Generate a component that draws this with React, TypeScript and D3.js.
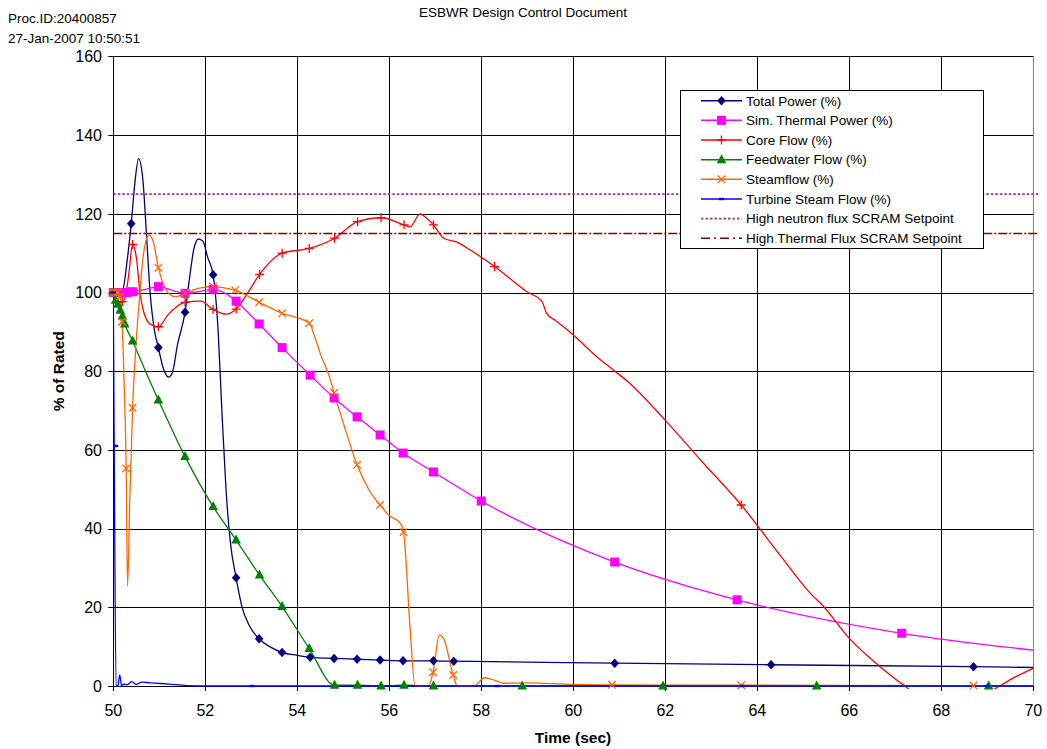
import React from "react";
import * as d3 from "d3";

type P = [number, number];

// ---- data (time in sec, % of rated) ----
const xTicks = [50, 52, 54, 56, 58, 60, 62, 64, 66, 68, 70];
const yTicks = [0, 20, 40, 60, 80, 100, 120, 140, 160];

const totalPowerLine: P[] = [
  [50, 100], [50.1, 100], [50.2, 100.5], [50.3, 108], [50.39, 117.5], [50.47, 128], [50.55, 134],
  [50.64, 129], [50.72, 115], [50.8, 100], [50.9, 90], [50.98, 86], [51.08, 81], [51.2, 78.5],
  [51.28, 79.5], [51.4, 87], [51.56, 95], [51.65, 103], [51.75, 111], [51.85, 113.6], [51.95, 113],
  [52.05, 109], [52.17, 104.5], [52.28, 90], [52.36, 70], [52.45, 50], [52.55, 36], [52.67, 27.5],
  [52.8, 20], [52.95, 15.5], [53.17, 12], [53.4, 10], [53.67, 8.5], [54.0, 7.8], [54.28, 7.3],
  [54.8, 7.0], [55.3, 6.8], [55.8, 6.6], [56.3, 6.4], [56.96, 6.4], [57.4, 6.3], [60.9, 5.8],
  [64.3, 5.4], [68.7, 4.9], [70, 4.7],
];
const totalPowerMarks: P[] = [
  [50, 100], [50.39, 117.5], [50.98, 86], [51.56, 95], [52.17, 104.5], [52.67, 27.5], [53.17, 12],
  [53.67, 8.5], [54.28, 7.3], [54.8, 7.0], [55.3, 6.8], [55.8, 6.6], [56.3, 6.4], [56.96, 6.4],
  [57.4, 6.3], [60.9, 5.8], [64.3, 5.4], [68.7, 4.9],
];

const thermalLine: P[] = [
  [50, 100], [50.1, 100], [50.2, 100], [50.3, 100], [50.42, 100.2], [50.7, 100.8], [50.98, 101.5],
  [51.3, 100.5], [51.56, 99.8], [51.9, 100.3], [52.17, 100.8], [52.4, 100], [52.67, 97.8],
  [53.17, 92], [53.67, 86], [54.28, 79], [54.8, 73.2], [55.3, 68.4], [55.8, 63.8], [56.3, 59.2],
  [56.96, 54.4], [58.0, 47], [60.9, 31.5], [63.56, 21.9], [67.14, 13.4], [70, 9.1],
];
const thermalMarks: P[] = [
  [50, 100], [50.1, 100], [50.2, 100], [50.3, 100], [50.42, 100.2], [50.98, 101.5], [51.56, 99.8],
  [52.17, 100.8], [52.67, 97.8], [53.17, 92], [53.67, 86], [54.28, 79], [54.8, 73.2], [55.3, 68.4],
  [55.8, 63.8], [56.3, 59.2], [56.96, 54.4], [58.0, 47], [60.9, 31.5], [63.56, 21.9], [67.14, 13.4],
];

const coreFlowLine: P[] = [
  [50, 100], [50.05, 97.5], [50.15, 97.5], [50.25, 98.5], [50.33, 104], [50.42, 112.2], [50.5, 109],
  [50.58, 100], [50.66, 95.1], [50.8, 92], [50.98, 91.3], [51.2, 94.5], [51.56, 97.5], [51.9, 97.8],
  [52.17, 95.7], [52.45, 94.5], [52.67, 95.8], [52.9, 99.5], [53.18, 104.6], [53.67, 110],
  [54.26, 111.2], [54.81, 113.8], [55.31, 118], [55.82, 119], [56.32, 117.2], [56.45, 116.7],
  [56.67, 120], [56.8, 119], [56.96, 117.2], [57.18, 113.8], [57.47, 112.8], [57.76, 110.8],
  [58.29, 106.6], [58.99, 100.2], [59.32, 97.7], [59.42, 94.7], [59.6, 93], [60.0, 89.2],
  [60.51, 83.7], [60.87, 80.3], [61.23, 76.9], [62.0, 67.5], [62.8, 57], [63.65, 46], [64.49, 33.3],
  [65.15, 23.6], [65.44, 20.2], [66.0, 12.1], [66.4, 7.6], [66.67, 4.9], [67.17, 0.3], [67.6, -3],
  [68.5, -4], [69.27, 0], [69.56, 2], [70, 4.5],
];
const coreFlowMarks: P[] = [
  [50, 100], [50.1, 97.5], [50.2, 97.7], [50.42, 112.2], [50.98, 91.3], [51.56, 97.5], [52.17, 95.7],
  [52.67, 95.8], [53.18, 104.6], [53.67, 110], [54.26, 111.2], [54.81, 113.8], [55.31, 118],
  [55.82, 119], [56.32, 117.2], [56.96, 117.2], [58.29, 106.6], [63.65, 46],
];

const feedwaterLine: P[] = [
  [50, 100], [50.05, 98], [50.1, 97], [50.15, 95.5], [50.2, 94], [50.25, 92], [50.42, 87.7],
  [50.7, 80], [50.98, 72.7], [51.56, 58.3], [52.17, 45.6], [52.67, 37.1], [53.18, 28.2],
  [53.67, 20.2], [54.26, 9.5], [54.81, 0.2], [55.31, 0.2], [55.82, 0], [56.32, 0.2], [56.96, 0],
  [58.89, 0], [61.95, 0], [65.29, 0], [69.03, 0], [70, 0],
];
const feedwaterMarks: P[] = [
  [50, 100], [50.05, 98], [50.1, 97], [50.15, 95.5], [50.2, 94], [50.25, 92], [50.42, 87.7],
  [50.98, 72.7], [51.56, 58.3], [52.17, 45.6], [52.67, 37.1], [53.18, 28.2], [53.67, 20.2],
  [54.26, 9.5], [54.81, 0.2], [55.31, 0.2], [55.82, 0], [56.32, 0.2], [56.96, 0], [58.89, 0],
  [61.95, 0], [65.29, 0], [69.03, 0],
];

const steamLine: P[] = [
  [50, 100], [50.05, 100], [50.1, 100], [50.15, 99], [50.19, 92.6], [50.24, 75], [50.28, 55.3],
  [50.31, 25.4], [50.36, 48], [50.42, 70.7], [50.5, 88], [50.58, 100], [50.64, 108.3],
  [50.77, 114.6], [50.86, 113.3], [50.98, 106.3], [51.17, 100.2], [51.35, 98.9], [51.56, 99.9],
  [51.9, 101.2], [52.17, 101.5], [52.4, 101.2], [52.65, 100.6], [53.17, 97.5], [53.67, 94.7],
  [54.26, 92.2], [54.4, 88], [54.5, 84.5], [54.72, 77.8], [54.8, 74.5], [55.05, 65], [55.3, 56.2],
  [55.55, 50], [55.8, 46], [55.98, 43.5], [56.24, 41.3], [56.31, 39.1], [56.45, 15], [56.56, 0],
  [56.85, 0], [56.95, 3.5], [57.09, 13], [57.18, 12.1], [57.39, 2.8], [57.48, 0], [57.83, 0],
  [58.08, 2.1], [58.3, 1.4], [58.48, 0.7], [59.0, 0.8], [60, 0.4], [60.84, 0.3], [63.65, 0.2],
  [68.7, 0.1], [70, 0.1],
];
const steamMarks: P[] = [
  [50, 100], [50.05, 100], [50.1, 100], [50.15, 99], [50.19, 92.6], [50.28, 55.3], [50.42, 70.7],
  [50.98, 106.3], [51.56, 99.9], [52.17, 101.5], [52.65, 100.6], [53.17, 97.5], [53.67, 94.7],
  [54.26, 92.2], [54.8, 74.5], [55.3, 56.2], [55.8, 46], [56.31, 39.1], [56.95, 3.5], [57.39, 2.8],
  [60.84, 0.3], [63.65, 0.2], [68.7, 0.1],
];

const turbineLine: P[] = [
  [50, 100], [50.02, 61], [50.06, 0], [50.1, 0], [50.14, 2.8], [50.18, 0], [50.22, 0.5], [50.3, 0.3],
  [50.4, 1.1], [50.5, 0.4], [50.62, 1.0], [50.8, 0.8], [51.2, 0.5], [51.6, 0.1], [52, 0], [70, 0],
];
const turbineMarks: P[] = [[50, 100], [50.05, 61], [53.01, 0], [58.34, 0], [63.67, 0], [69.0, 0]];

const neutronSetpoint = 125;
const thermalSetpoint = 115;

const seriesNames = [
  "Total Power (%)",
  "Sim. Thermal Power (%)",
  "Core Flow (%)",
  "Feedwater Flow (%)",
  "Steamflow (%)",
  "Turbine Steam Flow (%)",
  "High neutron flux SCRAM Setpoint",
  "High Thermal Flux SCRAM Setpoint",
];

// ---- layout ----
const W = 1047, H = 749;
const L = 113.3, R = 1033.3, T = 56.4, B = 686;
const FONT = "'Liberation Sans', Arial, sans-serif";

type MarkKind = "diamond" | "square" | "plus" | "triangle" | "cross" | "dash" | "none";
const colors = ["#000080", "#FF00FF", "#FF0000", "#008000", "#FF6600", "#0000FF", "#993399", "#800000"];
const kinds: MarkKind[] = ["diamond", "square", "plus", "triangle", "cross", "dash", "none", "none"];

function Marker({ kind, x, y, c }: { kind: MarkKind; x: number; y: number; c: string }) {
  switch (kind) {
    case "diamond":
      return <path d={`M${x},${y - 4.8}L${x + 4.3},${y}L${x},${y + 4.8}L${x - 4.3},${y}Z`} fill={c} />;
    case "square":
      return <rect x={x - 4.5} y={y - 4.5} width={9} height={9} fill={c} />;
    case "triangle":
      return <path d={`M${x},${y - 5.5}L${x + 4.8},${y + 3.5}L${x - 4.8},${y + 3.5}Z`} fill={c} />;
    case "plus":
      return <path d={`M${x - 4.5},${y}H${x + 4.5}M${x},${y - 4.5}V${y + 4.5}`} stroke={c} strokeWidth={1.3} />;
    case "cross":
      return <path d={`M${x - 3.8},${y - 3.8}L${x + 3.8},${y + 3.8}M${x + 3.8},${y - 3.8}L${x - 3.8},${y + 3.8}`} stroke={c} strokeWidth={1.3} />;
    case "dash":
      return <rect x={x - 2.5} y={y - 1.2} width={5} height={2.4} fill={c} />;
    default:
      return null;
  }
}

export default function App() {
  const x = d3.scaleLinear().domain([50, 70]).range([L, R]);
  const y = d3.scaleLinear().domain([0, 160]).range([B, T]);
  const line = d3.line<P>().x((d) => x(d[0])).y((d) => y(d[1])).curve(d3.curveMonotoneX);

  const series: { line: P[]; marks: P[] }[] = [
    { line: totalPowerLine, marks: totalPowerMarks },
    { line: thermalLine, marks: thermalMarks },
    { line: coreFlowLine, marks: coreFlowMarks },
    { line: feedwaterLine, marks: feedwaterMarks },
    { line: steamLine, marks: steamMarks },
    { line: turbineLine, marks: turbineMarks },
  ];

  const px = (v: number) => Math.round(v) + 0.5;

  // legend
  const lgX = 680, lgY = 90, lgW = 303, lgH = 158;
  const rowY = (i: number) => 100.7 + i * 19.66;

  return (
    <svg width={W} height={H} style={{ position: "absolute", left: 0, top: 0, background: "#fff" }} fontFamily={FONT}>
      <defs>
        <clipPath id="plotClip">
          <rect x={L} y={T} width={R - L + 5} height={B - T + 3} />
        </clipPath>
      </defs>
      <rect x={0} y={0} width={W} height={H} fill="#fff" />

      {/* header */}
      <text x={8} y={23} fontSize={13.5} fill="#000">Proc.ID:20400857</text>
      <text x={8} y={43} fontSize={13.5} fill="#000">27-Jan-2007 10:50:51</text>
      <text x={523} y={17} fontSize={13.5} textAnchor="middle" fill="#000">ESBWR Design Control Document</text>

      {/* plot border */}
      <rect x={px(L)} y={px(T)} width={Math.round(R) - Math.round(L)} height={Math.round(B) - Math.round(T)} fill="none" stroke="#808080" strokeWidth={1} />

      {/* gridlines */}
      {yTicks.map((t) => (
        <line key={"gy" + t} x1={L} x2={R} y1={px(y(t))} y2={px(y(t))} stroke="#000" strokeWidth={1} />
      ))}
      {xTicks.map((t) => (
        <line key={"gx" + t} x1={px(x(t))} x2={px(x(t))} y1={T} y2={B} stroke={t === 70 ? "#808080" : "#000"} strokeWidth={1} />
      ))}

      {/* axes */}
      <line x1={px(L)} x2={px(L)} y1={T} y2={B + 5} stroke="#000" />
      <line x1={L - 5} x2={R} y1={px(B)} y2={px(B)} stroke="#000" />
      {yTicks.map((t) => (
        <g key={"ty" + t}>
          <line x1={L - 5} x2={L} y1={px(y(t))} y2={px(y(t))} stroke="#000" />
          <text x={102} y={y(t) + 5.8} fontSize={16} textAnchor="end" fill="#000">{t}</text>
        </g>
      ))}
      {xTicks.map((t) => (
        <g key={"tx" + t}>
          <line x1={px(x(t))} x2={px(x(t))} y1={B} y2={B + 5} stroke="#000" />
          <text x={x(t)} y={716} fontSize={16} textAnchor="middle" fill="#000">{t}</text>
        </g>
      ))}
      <text x={573} y={743} fontSize={15.5} fontWeight="bold" textAnchor="middle" fill="#000">Time (sec)</text>
      <text transform={`translate(64,${(T + B) / 2}) rotate(-90)`} fontSize={15.5} fontWeight="bold" textAnchor="middle" fill="#000">% of Rated</text>

      {/* series */}
      <g clipPath="url(#plotClip)">
        {series.map((s, i) => (
          <path key={"l" + i} d={line(s.line) || ""} fill="none" stroke={colors[i]} strokeWidth={1.3} />
        ))}
        <line x1={L} x2={R + 5} y1={y(neutronSetpoint)} y2={y(neutronSetpoint)} stroke={colors[6]} strokeWidth={1.6} strokeDasharray="2.5,2" />
        <line x1={L} x2={R + 5} y1={y(thermalSetpoint)} y2={y(thermalSetpoint)} stroke={colors[7]} strokeWidth={1.6} strokeDasharray="9,2,2,2" />
      </g>
      <g>
        {series.map((s, i) =>
          s.marks.map((m, j) => <Marker key={`m${i}-${j}`} kind={kinds[i]} x={x(m[0])} y={y(m[1])} c={colors[i]} />)
        )}
      </g>

      {/* legend */}
      <rect x={lgX + 0.5} y={lgY + 0.5} width={lgW} height={lgH} fill="#fff" stroke="#000" strokeWidth={1} />
      {seriesNames.map((name, i) => {
        const ry = rowY(i);
        return (
          <g key={"lg" + i}>
            <line
              x1={701}
              x2={742}
              y1={ry}
              y2={ry}
              stroke={colors[i]}
              strokeWidth={i >= 6 ? 1.6 : 1.5}
              strokeDasharray={i === 6 ? "2.5,2" : i === 7 ? "9,4,2,4" : undefined}
            />
            <Marker kind={kinds[i]} x={721.5} y={ry} c={colors[i]} />
            <text x={746} y={ry + 4.8} fontSize={13.5} fill="#000">{name}</text>
          </g>
        );
      })}
    </svg>
  );
}
